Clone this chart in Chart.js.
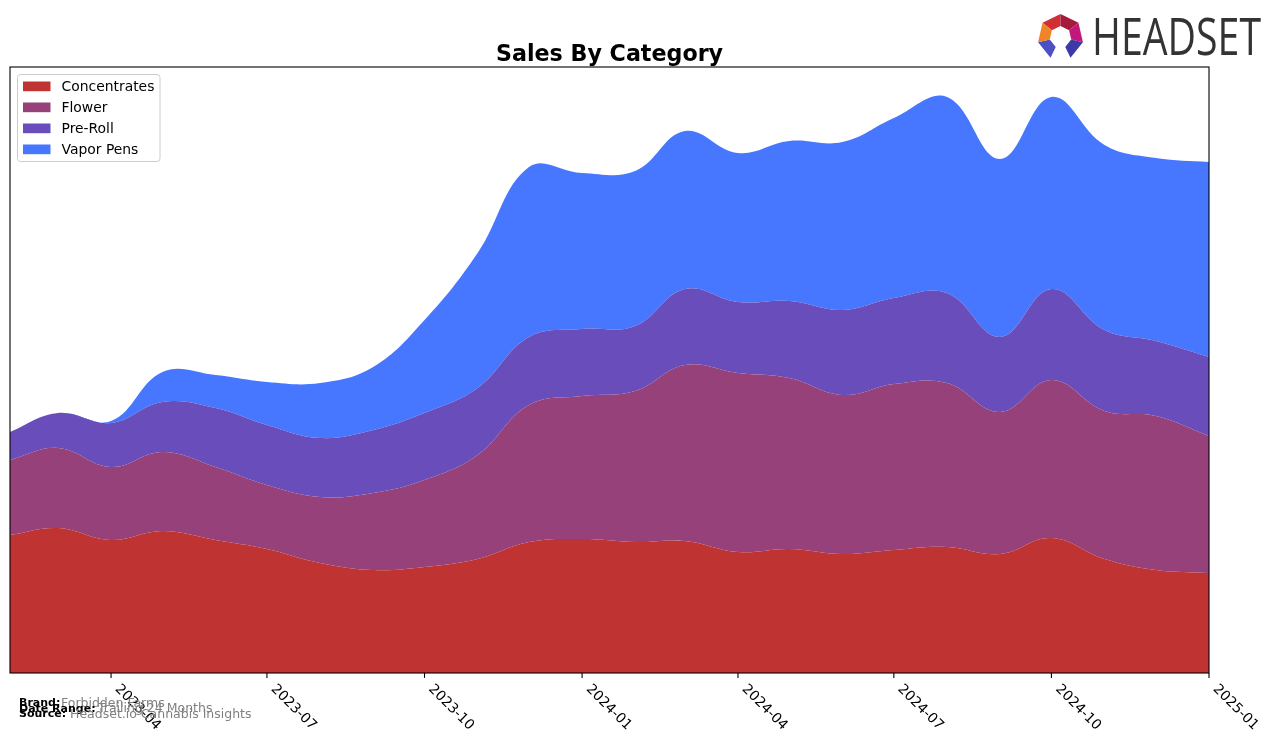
<!DOCTYPE html>
<html>
<head>
<meta charset="utf-8">
<script src="https://cdn.jsdelivr.net/npm/chart.js@4/dist/chart.umd.min.js"></script>
<style>
  html, body { margin: 0; padding: 0; background: #ffffff; }
  #wrap { position: relative; width: 1276px; height: 743px; }
  canvas { display: block; }
</style>
</head>
<body>
<div id="wrap"><canvas id="c" width="1276" height="743"></canvas></div>
<script>
// ---- data (arbitrary units) ----
const months = ['2023-02','2023-03','2023-04','2023-05','2023-06','2023-07','2023-08','2023-09','2023-10','2023-11','2023-12','2024-01',
                '2024-02','2024-03','2024-04','2024-05','2024-06','2024-07','2024-08','2024-09','2024-10','2024-11','2024-12','2025-01'];
const concentrates = [138,145,133,142,133,124,110,103,106,114,131,134,131,132,121,124,119,123,126,119,135,114,103,100];
const flower       = [ 75, 80, 73, 79, 73, 64, 66, 77, 87,104,137,143,151,176,179,171,159,166,164,142,158,148,154,137];
const preRoll      = [ 28, 35, 44, 50, 59, 60, 59, 63, 67, 67, 68, 67, 65, 76, 71, 77, 85, 86, 90, 75, 91, 81, 75, 79];
const vaporPens    = [  0,  0,  2, 30, 33, 43, 55, 63, 93,135,170,156,155,158,149,160,168,180,196,178,192,185,183,195];
const seriesNames  = ['Concentrates','Flower','Pre-Roll','Vapor Pens'];
const seriesColors = ['#c03333','#964179','#684dbb','#4777ff'];
const tickLabels   = ['2023-04','2023-07','2023-10','2024-01','2024-04','2024-07','2024-10','2025-01'];

const DAY = 86400000;
function dayOf(ym) { const [y, m] = ym.split('-').map(Number); return Date.UTC(y, m - 1, 1) / DAY; }
const day0 = dayOf(months[0]);
const xs = months.map(m => dayOf(m) - day0);
const seriesValues = [concentrates, flower, preRoll, vaporPens];

const datasets = seriesValues.map((vals, i) => ({
  label: seriesNames[i],
  data: vals.map((v, k) => ({ x: xs[k], y: v })),
  backgroundColor: seriesColors[i],
  borderColor: seriesColors[i],
  borderWidth: 0,
  pointRadius: 0,
  tension: 0.4,
  fill: i === 0 ? 'origin' : '-1'
}));

const FONT = 'DejaVu Sans';

const decor = {
  id: 'decor',
  afterDraw(chart) {
    const ctx = chart.ctx;
    const a = chart.chartArea;
    const xs_ = chart.scales.x;
    ctx.save();
    // frame
    ctx.strokeStyle = '#000';
    ctx.lineWidth = 1.1;
    ctx.strokeRect(a.left, a.top, a.right - a.left, a.bottom - a.top);
    // ticks + rotated labels
    ctx.fillStyle = '#000';
    ctx.font = '13.9px ' + FONT;
    ctx.textAlign = 'left';
    ctx.textBaseline = 'top';
    tickLabels.forEach(t => {
      const px = xs_.getPixelForValue(dayOf(t) - day0);
      ctx.beginPath();
      ctx.moveTo(px, a.bottom);
      ctx.lineTo(px, a.bottom + 4.9);
      ctx.stroke();
      ctx.save();
      ctx.translate(px + 11, a.bottom + 9);
      ctx.rotate(Math.PI / 4);
      ctx.fillText(t, 0, 0);
      ctx.restore();
    });
    // title
    ctx.font = 'bold 22.2px ' + FONT;
    ctx.textAlign = 'center';
    ctx.textBaseline = 'alphabetic';
    ctx.fillText('Sales By Category', (a.left + a.right) / 2, a.top - 6);
    // legend
    const lx = 17.5, ly = 74.5, lw = 142.5, lh = 87, r = 3;
    ctx.beginPath();
    ctx.moveTo(lx + r, ly);
    ctx.arcTo(lx + lw, ly, lx + lw, ly + lh, r);
    ctx.arcTo(lx + lw, ly + lh, lx, ly + lh, r);
    ctx.arcTo(lx, ly + lh, lx, ly, r);
    ctx.arcTo(lx, ly, lx + lw, ly, r);
    ctx.closePath();
    ctx.fillStyle = 'rgba(255,255,255,0.8)';
    ctx.fill();
    ctx.strokeStyle = '#cccccc';
    ctx.lineWidth = 1;
    ctx.stroke();
    ctx.font = '13.9px ' + FONT;
    ctx.textAlign = 'left';
    ctx.textBaseline = 'middle';
    seriesNames.forEach((n, i) => {
      const cy = 86.5 + i * 21;
      ctx.fillStyle = seriesColors[i];
      ctx.fillRect(23, cy - 5, 27.5, 9.7);
      ctx.fillStyle = '#000';
      ctx.fillText(n, 61.5, cy + 1);
    });
    // footer
    ctx.textBaseline = 'middle';
    const foot = [['Brand:', 'Forbidden Farms', 61, 703.5], ['Date Range:', 'Trailing 24 Months', 98, 709], ['Source:', 'Headset.io Cannabis Insights', 70, 714.5]];
    foot.forEach(([lab, val, vx, y]) => {
      ctx.fillStyle = '#000';
      ctx.font = 'bold 11px ' + FONT;
      ctx.fillText(lab, 19, y);
      ctx.fillStyle = '#808080';
      ctx.font = '12.5px ' + FONT;
      ctx.fillText(val, vx, y);
    });
    // logo icon
    const cx = 1060.5, cyl = 37, R = 23, ri = 11;
    const segs = [
      [-141.4, -90, '#d22f35'], [-90, -38.6, '#a51a3a'], [-38.6, 12.9, '#c2187a'],
      [12.9, 64.3, '#3b3aa6'], [115.7, 167.1, '#4d4fc4'], [167.1, 218.6, '#f08428']
    ];
    const P = (ang, rad) => [cx + rad * Math.cos(ang * Math.PI / 180), cyl + rad * Math.sin(ang * Math.PI / 180)];
    segs.forEach(([a0, a1, col]) => {
      const p1 = P(a0, R), p2 = P(a1, R), p3 = P(a1, ri), p4 = P(a0, ri);
      ctx.beginPath();
      ctx.moveTo(p1[0], p1[1]); ctx.lineTo(p2[0], p2[1]); ctx.lineTo(p3[0], p3[1]); ctx.lineTo(p4[0], p4[1]);
      ctx.closePath();
      ctx.fillStyle = col;
      ctx.fill();
    });
    // logo text
    ctx.fillStyle = '#333333';
    ctx.font = '51px "Open Sans"';
    ctx.textAlign = 'left';
    ctx.textBaseline = 'alphabetic';
    const w = ctx.measureText('HEADSET').width;
    ctx.save();
    ctx.translate(1092, 55);
    ctx.scale(169 / w, 1);
    ctx.fillText('HEADSET', 0, 0);
    ctx.restore();
    ctx.restore();
  }
};

new Chart(document.getElementById('c'), {
  type: 'line',
  data: { datasets },
  options: {
    responsive: false,
    animation: false,
    events: [],
    layout: { padding: { left: 10, top: 67, right: 67, bottom: 70 } },
    plugins: { legend: { display: false }, title: { display: false }, tooltip: { enabled: false } },
    scales: {
      x: { type: 'linear', display: false, min: 0, max: xs[xs.length - 1] },
      y: { display: false, stacked: true, min: 0, max: 606 }
    },
    elements: { line: { borderWidth: 0 } }
  },
  plugins: [decor]
});
</script>
</body>
</html>
